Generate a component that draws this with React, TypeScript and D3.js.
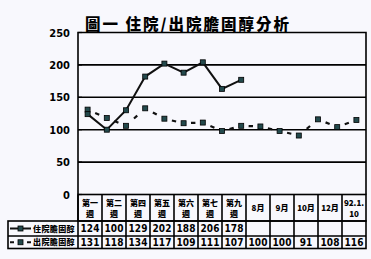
import React from "react";
import * as d3 from "d3";

const title = "圖一  住院/出院膽固醇分析";
const seriesNames = ["住院膽固醇", "出院膽固醇"];
const yTicks = [0, 50, 100, 150, 200, 250];
// chart points (15 slots on the x axis)
const pointSlots = d3.range(15);
const inpatient = [124, 100, 130, 182, 202, 188, 204, 163, 177];
const discharge = [131, 118, 106, 133, 117, 110, 111, 98, 106, 105, 98, 91, 116, 104, 115];
// data table
const tableCats = [
  ["第一", "週"], ["第二", "週"], ["第四", "週"], ["第五", "週"], ["第六", "週"], ["第七", "週"], ["第九", "週"],
  ["8月"], ["9月"], ["10月"], ["12月"], ["92.1.", "10"],
];
const tableRow1 = ["124", "100", "129", "202", "188", "206", "178", "", "", "", "", ""];
const tableRow2 = ["131", "118", "134", "117", "109", "111", "107", "100", "100", "91", "108", "116"];

const W = 371, H = 259;
const L = 78, R = 366, T = 32.5, B = 194.5;
const rowTops = [194.5, 221, 236, 248.5];
const tableLeft = 8;

const NUM_FONT = "'Liberation Sans Narrow', 'Arial Narrow', 'DejaVu Sans Condensed', sans-serif";
const CJK_FONT = "'Noto Sans CJK TC', 'Noto Sans CJK SC', sans-serif";

export default function App() {
  const x = d3.scaleBand<number>().domain(pointSlots).range([L, R]);
  const cx = (i: number) => (x(i) as number) + x.bandwidth() / 2;
  const y = d3.scaleLinear().domain([0, 250]).range([B, T]);
  const col = d3.scaleBand<number>().domain(d3.range(tableCats.length)).range([L, R]);
  const lineGen = d3.line<number>().x((_, i) => cx(i)).y((d) => y(d));

  const markerFill = "#23494c";
  const ms = 5;

  // dash segments between discharge points
  const dashes = discharge.slice(1).map((v, i) => {
    const x0 = cx(i), y0 = y(discharge[i]), x1 = cx(i + 1), y1 = y(v);
    const mx = (x0 + x1) / 2, my = (y0 + y1) / 2;
    const len = Math.hypot(x1 - x0, y1 - y0);
    const ux = (x1 - x0) / len, uy = (y1 - y0) / len;
    const h = 2.2;
    return { x1: mx - ux * h, y1: my - uy * h, x2: mx + ux * h, y2: my + uy * h };
  });

  return (
    <svg width={W} height={H} style={{ position: "fixed", left: 0, top: 0, background: "#f8f8fd" }}>
      <rect x={0} y={0} width={W} height={H} fill="#f8f8fd" />
      <text x={188} y={29.5} textAnchor="middle" fontFamily={CJK_FONT} fontWeight={900} fontSize={15.5} letterSpacing={2}>
        {title}
      </text>

      {/* y labels */}
      {yTicks.map((t) => (
        <text key={t} x={70} y={y(t) + 4} textAnchor="end" fontFamily={NUM_FONT} fontWeight={700} fontSize={11}>
          {t}
        </text>
      ))}

      {/* gridlines */}
      {yTicks.filter((t) => t > 0 && t < 250).map((t) => (
        <line key={t} x1={L} x2={R} y1={y(t)} y2={y(t)} stroke="#000" strokeWidth={1.6} />
      ))}
      {/* frame */}
      <path d={`M${L},${B} V${T} H${R} V${B}`} fill="none" stroke="#000" strokeWidth={1.6} />
      {yTicks.map((t) => (
        <line key={"tk" + t} x1={L} x2={L + 4} y1={y(t)} y2={y(t)} stroke="#000" strokeWidth={1.2} />
      ))}

      {/* discharge dashed series */}
      {dashes.map((d, i) => (
        <line key={"d" + i} {...d} stroke="#111" strokeWidth={2.2} />
      ))}
      {discharge.map((v, i) => (
        <rect key={"dm" + i} x={cx(i) - ms / 2} y={y(v) - ms / 2} width={ms} height={ms} fill={markerFill} stroke="#000" strokeWidth={0.8} />
      ))}

      {/* inpatient solid series */}
      <path d={lineGen(inpatient) || ""} fill="none" stroke="#111" strokeWidth={2} />
      {inpatient.map((v, i) => (
        <rect key={"im" + i} x={cx(i) - ms / 2} y={y(v) - ms / 2} width={ms} height={ms} fill={markerFill} stroke="#000" strokeWidth={0.8} />
      ))}

      {/* data table */}
      <g stroke="#000" strokeWidth={1.6} fill="none">
        <rect x={L} y={rowTops[0]} width={R - L} height={rowTops[1] - rowTops[0]} />
        <rect x={tableLeft} y={rowTops[1]} width={R - tableLeft} height={rowTops[3] - rowTops[1]} />
        <line x1={tableLeft} x2={R} y1={rowTops[2]} y2={rowTops[2]} />
        <line x1={L} x2={L} y1={rowTops[0]} y2={rowTops[3]} />
        {tableCats.slice(1).map((_, i) => (
          <line key={i} x1={col(i + 1)} x2={col(i + 1)} y1={rowTops[0]} y2={rowTops[3]} />
        ))}
      </g>
      {tableCats.map((c, i) => {
        const mx = (col(i) as number) + col.bandwidth() / 2;
        return c.length === 2 ? (
          <g key={"h" + i}>
            <text x={mx} y={206} textAnchor="middle" fontFamily={CJK_FONT} fontWeight={900} fontSize={8}>{c[0]}</text>
            <text x={mx} y={217} textAnchor="middle" fontFamily={CJK_FONT} fontWeight={900} fontSize={8}>{c[1]}</text>
          </g>
        ) : (
          <text key={"h" + i} x={mx} y={210.5} textAnchor="middle" fontFamily={CJK_FONT} fontWeight={900} fontSize={8}>{c[0]}</text>
        );
      })}
      {[tableRow1, tableRow2].map((row, r) =>
        row.map((v, i) => (
          <text key={`v${r}-${i}`} x={(col(i) as number) + col.bandwidth() / 2} y={(rowTops[r + 1] + rowTops[r + 2]) / 2 + 3.5}
            textAnchor="middle" fontFamily={NUM_FONT} fontWeight={700} fontSize={10}>{v}</text>
        ))
      )}

      {/* legend keys */}
      {(() => {
        const y1 = (rowTops[1] + rowTops[2]) / 2;
        const y2 = (rowTops[2] + rowTops[3]) / 2;
        return (
          <g>
            <line x1={10} x2={31} y1={y1} y2={y1} stroke="#111" strokeWidth={2} />
            <rect x={20.5 - ms / 2} y={y1 - ms / 2} width={ms} height={ms} fill={markerFill} stroke="#000" strokeWidth={0.8} />
            <text x={33} y={y1 + 3} fontFamily={CJK_FONT} fontWeight={900} fontSize={8} letterSpacing={0.4}>{seriesNames[0]}</text>
            <line x1={10} x2={14} y1={y2} y2={y2} stroke="#111" strokeWidth={2} />
            <line x1={27} x2={31} y1={y2} y2={y2} stroke="#111" strokeWidth={2} />
            <rect x={20.5 - ms / 2} y={y2 - ms / 2} width={ms} height={ms} fill={markerFill} stroke="#000" strokeWidth={0.8} />
            <text x={33} y={y2 + 3} fontFamily={CJK_FONT} fontWeight={900} fontSize={8} letterSpacing={0.4}>{seriesNames[1]}</text>
          </g>
        );
      })()}
    </svg>
  );
}
